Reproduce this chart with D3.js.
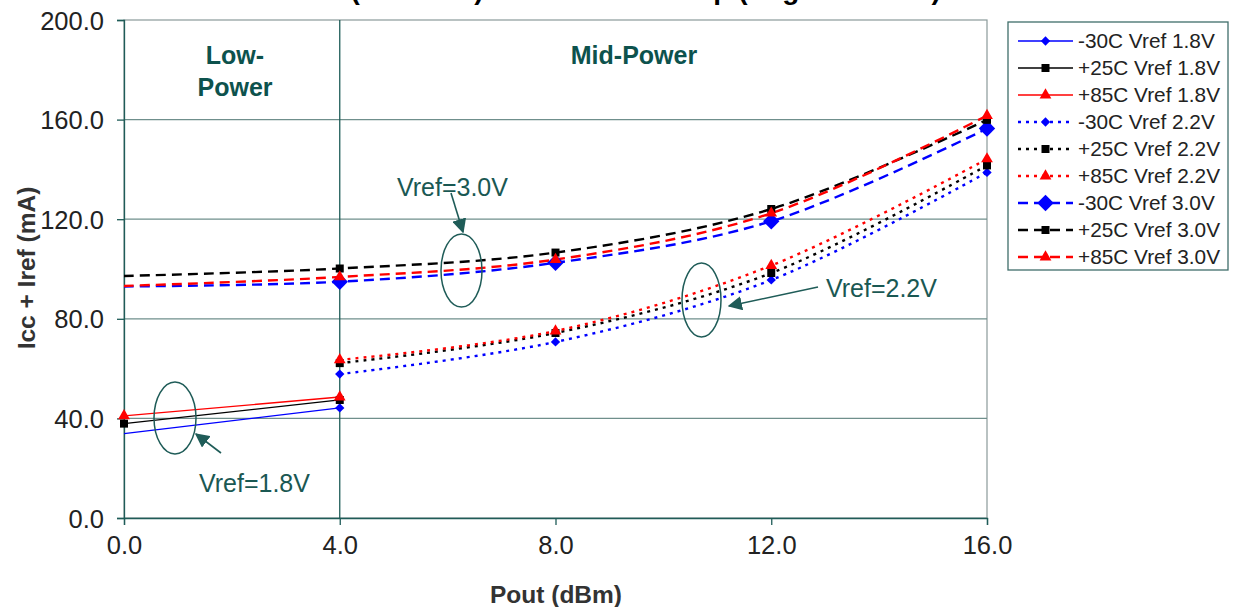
<!DOCTYPE html>
<html>
<head>
<meta charset="utf-8">
<script src="https://cdn.jsdelivr.net/npm/d3@7"></script>
<style>
  html, body { margin: 0; padding: 0; background: #fff; }
  svg { display: block; font-family: Arial, "Liberation Sans", sans-serif; }
</style>
</head>
<body>
<svg id="chart" width="1237" height="607"></svg>
<script>
// Output power steps (dBm)
const pout = [0, 4, 8, 12, 16];

// Total current Icc + Iref (mA) per temperature and Vref setting
const m30_18 = [33.9, 44.2, null, null, null];
const p25_18 = [37.9, 47.4, null, null, null];
const p85_18 = [41.0, 48.6, null, null, null];
const m30_22 = [null, 57.8, 70.7, 95.6, 138.8];
const p25_22 = [null, 62.2, 74.3, 98.4, 141.6];
const p85_22 = [null, 63.5, 75.1, 101.4, 144.2];
const m30_30 = [93.0, 94.9, 102.5, 119.2, 156.4];
const p25_30 = [97.2, 100.2, 106.6, 124.1, 159.9];
const p85_30 = [93.2, 96.8, 103.8, 122.4, 161.6];

const seriesNames = [
  "-30C Vref 1.8V", "+25C Vref 1.8V", "+85C Vref 1.8V",
  "-30C Vref 2.2V", "+25C Vref 2.2V", "+85C Vref 2.2V",
  "-30C Vref 3.0V", "+25C Vref 3.0V", "+85C Vref 3.0V"
];
const seriesValues = [m30_18, p25_18, p85_18, m30_22, p25_22, p85_22, m30_30, p25_30, p85_30];

const yTicks = [0, 40, 80, 120, 160, 200];
const xTicks = [0, 4, 8, 12, 16];

// Styling per series: colour, dash pattern, marker shape/size, first marked point
const colors = ["#0000ff", "#000000", "#ff0000"];
const dashes = [null, "3,5", "10,6"];
const shapes = ["diamond", "square", "triangle"];
const seriesStyle = seriesValues.map((_, i) => {
  const t = i % 3, g = Math.floor(i / 3);
  let size = t === 0 ? 42 : t === 1 ? 64 : 60;
  if (g === 2 && t === 0) size = 130;
  let firstMark = 0;
  if (g === 2) firstMark = 1;
  if (g === 0 && t === 0) firstMark = 1;
  return { color: colors[t], dash: dashes[g], shape: shapes[t], size, firstMark, group: g };
});

const svg = d3.select("#chart");
const teal = "#1f5c58";
const gridCol = "#6f8f8c";
const fontFam = "Arial, 'Liberation Sans', sans-serif";

const x = d3.scaleLinear().domain([0, 16]).range([124, 987]);
const y = d3.scaleLinear().domain([0, 200]).range([518, 20]);

// Plot frame
svg.append("rect")
  .attr("x", x(0)).attr("y", y(200))
  .attr("width", x(16) - x(0)).attr("height", y(0) - y(200))
  .attr("fill", "none").attr("stroke", "#8a9a9a").attr("stroke-width", 1.2);

// Horizontal gridlines
svg.append("g").selectAll("line")
  .data(yTicks.filter(v => v > 0 && v < 200))
  .join("line")
  .attr("x1", x(0)).attr("x2", x(16))
  .attr("y1", d => y(d)).attr("y2", d => y(d))
  .attr("stroke", gridCol).attr("stroke-width", 1.3);

// Low / Mid power boundary
svg.append("line")
  .attr("x1", x(4)).attr("x2", x(4))
  .attr("y1", y(200)).attr("y2", y(0))
  .attr("stroke", teal).attr("stroke-width", 1.3);

// Axes
const yAxis = d3.axisLeft(y).tickValues(yTicks).tickFormat(d3.format(".1f")).tickSize(7).tickPadding(13);
const gy = svg.append("g").attr("transform", `translate(${x(0)},0)`).call(yAxis);
const xAxis = d3.axisBottom(x).tickValues(xTicks).tickFormat(d3.format(".1f")).tickSize(7).tickPadding(11);
const gx = svg.append("g").attr("transform", `translate(0,${y(0)})`).call(xAxis);
[gx, gy].forEach(g => {
  g.select(".domain").attr("stroke", teal).attr("stroke-width", 1.3);
  g.selectAll(".tick line").attr("stroke", teal).attr("stroke-width", 1.3);
  g.selectAll(".tick text").attr("fill", "#222").attr("font-size", 25.5).attr("font-family", fontFam);
});
gy.selectAll(".tick text").attr("dy", "0.36em");

// Axis titles
svg.append("text")
  .attr("x", 556).attr("y", 603)
  .attr("text-anchor", "middle").attr("font-size", 24.5).attr("font-weight", "bold").attr("fill", "#333")
  .text("Pout (dBm)");
svg.append("text")
  .attr("transform", "translate(35,268) rotate(-90)")
  .attr("text-anchor", "middle").attr("font-size", 24.5).attr("font-weight", "bold").attr("fill", "#333")
  .text("Icc + Iref (mA)");

// Chart title (runs off the top edge)
svg.append("text")
  .attr("x", 555).attr("y", -1)
  .attr("text-anchor", "middle").attr("font-size", 28).attr("font-weight", "bold").attr("fill", "#000")
  .text("Total Current (Icc + Iref) vs Pout and Temp (Avg of 3 units)");

// Region labels
const region = svg.append("g").attr("font-size", 25).attr("font-weight", "bold").attr("fill", "#0d524d").attr("text-anchor", "middle");
region.append("text").attr("x", 235).attr("y", 64).text("Low-");
region.append("text").attr("x", 235).attr("y", 96).text("Power");
region.append("text").attr("x", 634).attr("y", 64).text("Mid-Power");

// Marker paths: diamonds are rotated squares
function markerPath(shape, size) {
  if (shape === "diamond") {
    const h = Math.sqrt(size) * 0.72;
    return `M0,${-h}L${h},0L0,${h}L${-h},0Z`;
  }
  const type = shape === "square" ? d3.symbolSquare : d3.symbolTriangle;
  return d3.symbol().type(type).size(size)();
}

// Series lines
const lineGen = d3.line()
  .defined(d => d.v != null)
  .x(d => x(d.p)).y(d => y(d.v))
  .curve(d3.curveCatmullRom.alpha(0.5));

const plot = svg.append("g");
seriesValues.forEach((vals, i) => {
  const st = seriesStyle[i];
  const pts = vals.map((v, k) => ({ p: pout[k], v, k }));
  plot.append("path")
    .datum(pts)
    .attr("d", lineGen)
    .attr("fill", "none")
    .attr("stroke", st.color)
    .attr("stroke-width", st.group === 0 ? 1.3 : 2.4)
    .attr("stroke-dasharray", st.dash);
});
seriesValues.forEach((vals, i) => {
  const st = seriesStyle[i];
  const pts = vals.map((v, k) => ({ p: pout[k], v, k })).filter(d => d.v != null && d.k >= st.firstMark);
  plot.append("g").selectAll("path")
    .data(pts)
    .join("path")
    .attr("transform", d => `translate(${x(d.p)},${y(d.v)})`)
    .attr("d", markerPath(st.shape, st.size))
    .attr("fill", st.color);
});

// Annotations: ellipses, arrows, labels
const defs = svg.append("defs");
defs.append("marker").attr("id", "arrowHead")
  .attr("viewBox", "0 0 10 10").attr("refX", 9).attr("refY", 5)
  .attr("markerWidth", 9).attr("markerHeight", 9).attr("markerUnits", "strokeWidth")
  .attr("orient", "auto")
  .append("path").attr("d", "M0,0 L10,5 L0,10 Z").attr("fill", teal);

const ann = svg.append("g");
const ellipses = [
  { cx: 175, cy: 418, rx: 21, ry: 36 },
  { cx: 461.5, cy: 270.5, rx: 20.5, ry: 36.5 },
  { cx: 701.5, cy: 300, rx: 19.5, ry: 37 }
];
ann.selectAll("ellipse").data(ellipses).join("ellipse")
  .attr("cx", d => d.cx).attr("cy", d => d.cy).attr("rx", d => d.rx).attr("ry", d => d.ry)
  .attr("fill", "none").attr("stroke", teal).attr("stroke-width", 1.5);

const arrows = [
  { x1: 221, y1: 453, x2: 196, y2: 434 },
  { x1: 451, y1: 193, x2: 463, y2: 232 },
  { x1: 818, y1: 287, x2: 729, y2: 306 }
];
ann.selectAll("line").data(arrows).join("line")
  .attr("x1", d => d.x1).attr("y1", d => d.y1).attr("x2", d => d.x2).attr("y2", d => d.y2)
  .attr("stroke", teal).attr("stroke-width", 1.6).attr("marker-end", "url(#arrowHead)");

const notes = [
  { x: 199, y: 492, t: "Vref=1.8V" },
  { x: 397, y: 196, t: "Vref=3.0V" },
  { x: 826, y: 297, t: "Vref=2.2V" }
];
ann.selectAll("text").data(notes).join("text")
  .attr("x", d => d.x).attr("y", d => d.y)
  .attr("font-size", 25).attr("fill", "#1a5853")
  .text(d => d.t);

// Legend
const lg = svg.append("g");
lg.append("rect").attr("x", 1008).attr("y", 22).attr("width", 220).attr("height", 248)
  .attr("fill", "#fff").attr("stroke", "#3f6e6a").attr("stroke-width", 1.3);
seriesNames.forEach((name, i) => {
  const st = seriesStyle[i];
  const cy = 41 + i * 27;
  lg.append("line").attr("x1", 1018).attr("x2", 1073).attr("y1", cy).attr("y2", cy)
    .attr("stroke", st.color).attr("stroke-width", st.group === 0 ? 1.3 : 2.4)
    .attr("stroke-dasharray", st.dash);
  lg.append("path")
    .attr("transform", `translate(1045.5,${cy})`)
    .attr("d", markerPath(st.shape, st.size))
    .attr("fill", st.color);
  lg.append("text").attr("x", 1078).attr("y", cy).attr("dy", "0.36em")
    .attr("font-size", 20.8).attr("fill", "#222").text(name);
});
</script>
</body>
</html>
